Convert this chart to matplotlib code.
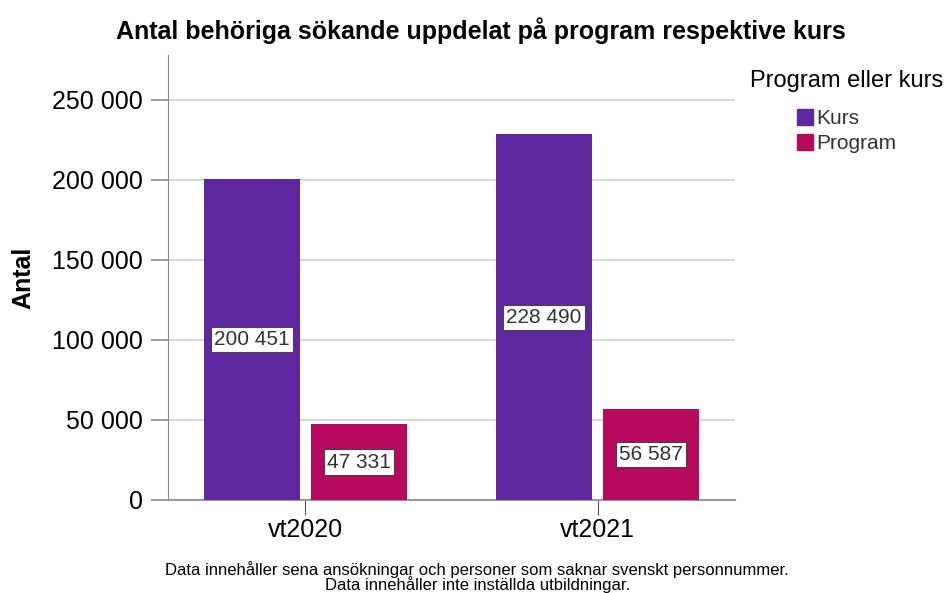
import matplotlib.pyplot as plt
import numpy as np
from matplotlib.patches import Patch

plt.rcParams['font.family'] = ['Liberation Sans', 'DejaVu Sans']

# data
terms = ['vt2020', 'vt2021']
kurs = [200451, 228490]
program = [47331, 56587]
yticks = [0, 50000, 100000, 150000, 200000, 250000]

c_kurs = '#5E27A0'
c_prog = '#B70A5C'


def fmt(v):
    return f"{v:,}".replace(',', ' ')


fig = plt.figure(figsize=(9.49, 5.93), dpi=100)
ax = fig.add_axes([0.177, 0.157, 0.5975, 0.750])

x = np.arange(len(terms))
w = 0.33
off = 0.183
b1 = ax.bar(x - off, kurs, w, color=c_kurs, zorder=3)
b2 = ax.bar(x + off, program, w, color=c_prog, zorder=3)

for bars, vals in [(b1, kurs), (b2, program)]:
    for r, v in zip(bars, vals):
        ax.text(r.get_x() + r.get_width() / 2, v / 2, fmt(v), ha='center', va='center',
                fontsize=15, color='#333333', zorder=4,
                bbox=dict(boxstyle='square,pad=0.15', fc='white', ec='#444444', lw=0.8))

ax.set_xlim(-0.47, 1.47)
ax.set_ylim(0, 278000)
ax.set_yticks(yticks)
ax.set_yticklabels([fmt(v) for v in yticks], fontsize=18)
ax.set_xticks(x)
ax.set_xticklabels(terms, fontsize=18)
ax.tick_params(axis='y', length=12, color='#888888', width=1.2, pad=6)
ax.tick_params(axis='x', length=11, color='#555555', pad=2)
ax.grid(axis='y', color='#d9d9d9', lw=1.5, zorder=0)

for s in ['top', 'right']:
    ax.spines[s].set_visible(False)
ax.spines['left'].set_color('#888888')
ax.spines['bottom'].set_color('#999999')
ax.spines['bottom'].set_linewidth(1.5)

ax.set_ylabel('Antal', fontsize=18, fontweight='bold', labelpad=12)

fig.text(0.507, 0.948, 'Antal behöriga sökande uppdelat på program respektive kurs',
         ha='center', va='center', fontsize=18, fontweight='bold')

handles = [Patch(color=c_kurs, label='Kurs'), Patch(color=c_prog, label='Program')]
leg = fig.legend(handles=handles, title='Program eller kurs', loc='upper center',
                 bbox_to_anchor=(0.892, 0.882), frameon=False, fontsize=15,
                 title_fontsize=17, handlelength=0.8, handleheight=0.8,
                 handletextpad=0.15, labelspacing=0.3, borderpad=0, borderaxespad=0)
leg._legend_box.sep = 12
for t in leg.get_texts():
    t.set_color('#333333')

fig.text(0.503, 0.027, 'Data innehåller sena ansökningar och personer som saknar svenskt personnummer.\n'
         'Data innehåller inte inställda utbildningar.', ha='center', va='center',
         fontsize=12, linespacing=0.85)

fig.savefig('out.png', dpi=100)
